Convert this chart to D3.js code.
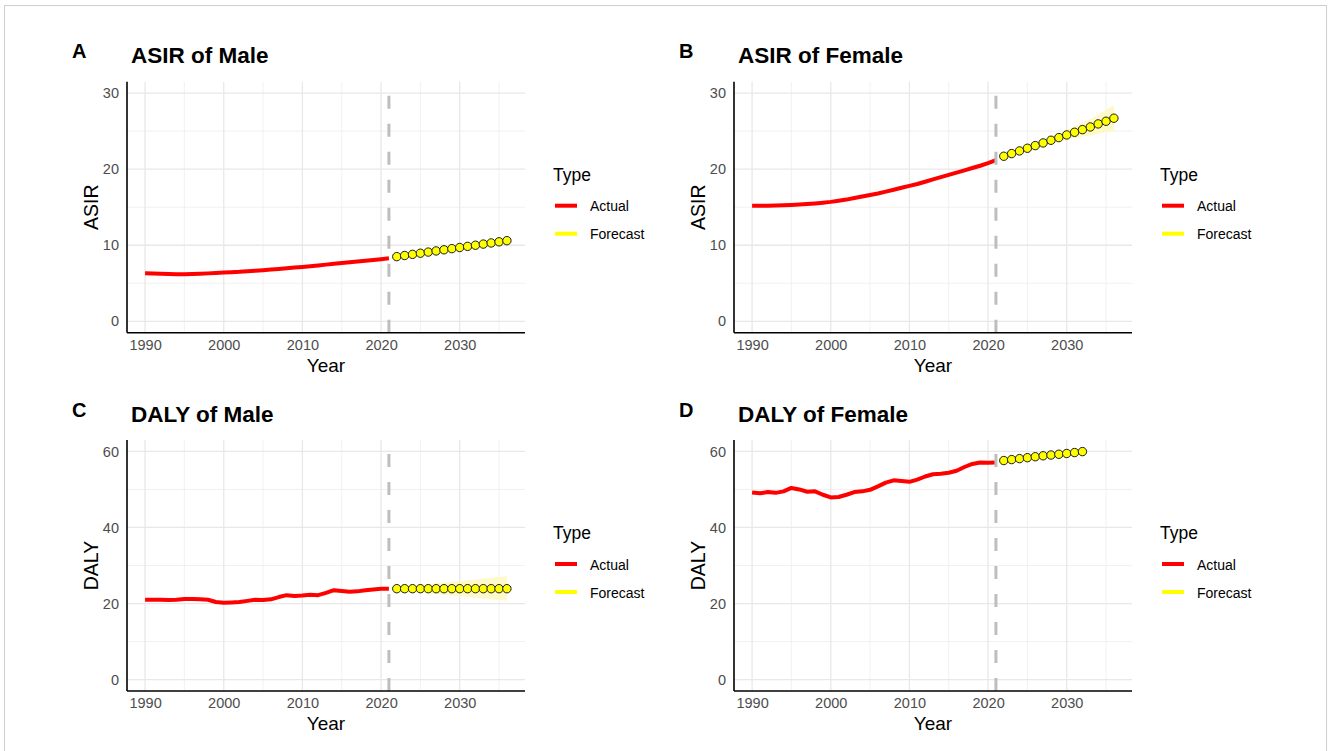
<!DOCTYPE html>
<html>
<head>
<meta charset="utf-8">
<script src="https://cdn.jsdelivr.net/npm/d3@7"></script>
<style>
  body { margin: 0; background: #fff; }
  svg { display: block; }
  text { font-family: "Liberation Sans", Arial, sans-serif; }
</style>
</head>
<body>
<div id="chart"></div>
<script>
// années observées et prévues
const actualYears = d3.range(1990, 2022);
const forecastYears = d3.range(2022, 2037);
const forecastYearsShort = d3.range(2022, 2033);

// ASIR homme
const asirMale = [6.3, 6.28, 6.25, 6.22, 6.2, 6.2, 6.22, 6.25, 6.3, 6.35, 6.4, 6.45, 6.5, 6.58, 6.65, 6.72,
  6.8, 6.88, 6.97, 7.06, 7.15, 7.25, 7.35, 7.45, 7.55, 7.65, 7.75, 7.85, 7.95, 8.05, 8.17, 8.3];
const asirMaleFc = [8.5, 8.65, 8.8, 8.95, 9.1, 9.25, 9.4, 9.55, 9.7, 9.85, 10.0, 10.15, 10.3, 10.45, 10.6];
const asirMaleLo = [8.45, 8.58, 8.71, 8.84, 8.97, 9.1, 9.23, 9.36, 9.48, 9.6, 9.72, 9.84, 9.96, 10.08, 10.2];
const asirMaleHi = [8.55, 8.72, 8.89, 9.06, 9.23, 9.4, 9.57, 9.74, 9.92, 10.1, 10.28, 10.46, 10.64, 10.82, 11.0];

// ASIR femme
const asirFemale = [15.2, 15.2, 15.2, 15.22, 15.25, 15.3, 15.35, 15.42, 15.5, 15.6, 15.7, 15.85, 16.0, 16.2, 16.4, 16.6,
  16.8, 17.05, 17.3, 17.55, 17.8, 18.05, 18.35, 18.65, 18.95, 19.25, 19.55, 19.85, 20.15, 20.45, 20.8, 21.2];
const asirFemaleFc = [21.7, 22.05, 22.4, 22.75, 23.1, 23.45, 23.8, 24.15, 24.5, 24.85, 25.2, 25.55, 25.95, 26.3, 26.7];
const asirFemaleLo = [21.6, 21.9, 22.2, 22.5, 22.8, 23.1, 23.35, 23.6, 23.85, 24.05, 24.25, 24.45, 24.65, 24.85, 25.0];
const asirFemaleHi = [21.8, 22.2, 22.6, 23.0, 23.4, 23.8, 24.25, 24.7, 25.15, 25.6, 26.1, 26.6, 27.2, 27.8, 28.4];

// DALY homme
const dalyMale = [21.0, 21.0, 21.0, 20.9, 21.0, 21.2, 21.2, 21.1, 21.0, 20.4, 20.2, 20.3, 20.4, 20.7, 21.0, 20.9,
  21.1, 21.7, 22.2, 22.0, 22.1, 22.3, 22.2, 22.8, 23.5, 23.3, 23.1, 23.2, 23.5, 23.7, 23.9, 23.9];
const dalyMaleFc = [23.9, 23.9, 23.9, 23.9, 23.9, 23.9, 23.9, 23.9, 23.9, 23.9, 23.9, 23.9, 23.9, 23.9, 23.9];
const dalyMaleLo = [23.7, 23.4, 23.2, 22.9, 22.7, 22.5, 22.3, 22.1, 21.9, 21.7, 21.5, 21.3, 21.1, 20.9, 20.7];
const dalyMaleHi = [24.1, 24.4, 24.6, 24.9, 25.1, 25.3, 25.5, 25.7, 25.9, 26.1, 26.3, 26.5, 26.7, 27.0, 27.2];

// DALY femme
const dalyFemale = [49.2, 49.0, 49.3, 49.1, 49.5, 50.4, 50.0, 49.4, 49.5, 48.6, 47.9, 48.0, 48.6, 49.3, 49.5, 49.9,
  50.8, 51.8, 52.4, 52.2, 52.0, 52.6, 53.4, 54.0, 54.1, 54.4, 54.9, 55.9, 56.7, 57.1, 57.0, 57.1];
const dalyFemaleFc = [57.6, 57.85, 58.1, 58.35, 58.6, 58.85, 59.05, 59.25, 59.45, 59.7, 59.95];

const legendLabels = ["Actual", "Forecast"];

// positions des panneaux
const panels = [
  { letter: "A", title: "ASIR of Male", yLab: "ASIR", left: 127, top: 81.7, yMax: 30, yStep: 10,
    actual: asirMale, fYears: forecastYears, fc: asirMaleFc, lo: asirMaleLo, hi: asirMaleHi },
  { letter: "B", title: "ASIR of Female", yLab: "ASIR", left: 734, top: 81.7, yMax: 30, yStep: 10,
    actual: asirFemale, fYears: forecastYears, fc: asirFemaleFc, lo: asirFemaleLo, hi: asirFemaleHi },
  { letter: "C", title: "DALY of Male", yLab: "DALY", left: 127, top: 440, yMax: 60, yStep: 20,
    actual: dalyMale, fYears: forecastYears, fc: dalyMaleFc, lo: dalyMaleLo, hi: dalyMaleHi },
  { letter: "D", title: "DALY of Female", yLab: "DALY", left: 734, top: 440, yMax: 60, yStep: 20,
    actual: dalyFemale, fYears: forecastYearsShort, fc: dalyFemaleFc, lo: null, hi: null }
];

const W = 398, H = 251;

const svg = d3.select("#chart").append("svg")
  .attr("width", 1328)
  .attr("height", 751);

svg.append("rect")
  .attr("x", 4.5).attr("y", 5.5)
  .attr("width", 1322).attr("height", 760)
  .attr("fill", "none")
  .attr("stroke", "#cfcfcf");

panels.forEach(p => {
  const g = svg.append("g").attr("transform", `translate(${p.left},${p.top})`);

  const x = d3.scaleLinear().domain([1987.7, 2038.3]).range([0, W]);
  const pad = p.yMax * 0.05;
  const y = d3.scaleLinear().domain([-pad, p.yMax + pad]).range([H, 0]);

  // grille mineure puis majeure
  const xMinor = d3.range(1995, 2040, 10);
  const xMajor = d3.range(1990, 2031, 10);
  const yMinor = d3.range(p.yStep / 2, p.yMax, p.yStep);
  const yMajor = d3.range(0, p.yMax + 1, p.yStep);

  g.selectAll(".vminor").data(xMinor).enter().append("line")
    .attr("x1", d => x(d)).attr("x2", d => x(d)).attr("y1", 0).attr("y2", H)
    .attr("stroke", "#ededed").attr("stroke-width", 0.8);
  g.selectAll(".hminor").data(yMinor).enter().append("line")
    .attr("x1", 0).attr("x2", W).attr("y1", d => y(d)).attr("y2", d => y(d))
    .attr("stroke", "#ededed").attr("stroke-width", 0.8);
  g.selectAll(".vmajor").data(xMajor).enter().append("line")
    .attr("x1", d => x(d)).attr("x2", d => x(d)).attr("y1", 0).attr("y2", H)
    .attr("stroke", "#e8e8e8").attr("stroke-width", 1.3);
  g.selectAll(".hmajor").data(yMajor).enter().append("line")
    .attr("x1", 0).attr("x2", W).attr("y1", d => y(d)).attr("y2", d => y(d))
    .attr("stroke", "#e8e8e8").attr("stroke-width", 1.3);

  // intervalle de prévision
  if (p.lo) {
    const band = p.fYears.map((yr, i) => ({ yr, lo: p.lo[i], hi: p.hi[i] }));
    g.append("path")
      .datum(band)
      .attr("fill", "#fdf8c2")
      .attr("fill-opacity", 0.9)
      .attr("d", d3.area().x(d => x(d.yr)).y0(d => y(d.lo)).y1(d => y(d.hi)));
  }

  // série observée
  const act = actualYears.map((yr, i) => ({ yr, v: p.actual[i] }));
  g.append("path")
    .datum(act)
    .attr("fill", "none")
    .attr("stroke", "#ff0000")
    .attr("stroke-width", 4)
    .attr("stroke-linejoin", "round")
    .attr("d", d3.line().x(d => x(d.yr)).y(d => y(d.v)));

  // ligne pointillée 2021
  g.append("line")
    .attr("x1", x(2021)).attr("x2", x(2021))
    .attr("y1", H).attr("y2", 0)
    .attr("stroke", "#bebebe")
    .attr("stroke-width", 3)
    .attr("stroke-dasharray", "13,15");

  // points de prévision
  const fc = p.fYears.map((yr, i) => ({ yr, v: p.fc[i] }));
  g.selectAll(".pt").data(fc).enter().append("circle")
    .attr("cx", d => x(d.yr)).attr("cy", d => y(d.v))
    .attr("r", 4.2)
    .attr("fill", "#ffff00")
    .attr("stroke", "#1a1a1a")
    .attr("stroke-width", 1);

  // axes
  g.append("line").attr("x1", 0).attr("x2", 0).attr("y1", 0).attr("y2", H)
    .attr("stroke", "#000").attr("stroke-width", 1.6);
  g.append("line").attr("x1", 0).attr("x2", W).attr("y1", H).attr("y2", H)
    .attr("stroke", "#000").attr("stroke-width", 1.6);

  const xAxis = g.append("g").attr("transform", `translate(0,${H})`)
    .call(d3.axisBottom(x).tickValues(xMajor).tickFormat(d3.format("d")).tickSize(0).tickPadding(7));
  xAxis.select(".domain").remove();
  xAxis.selectAll("text").attr("font-size", 14.5).attr("fill", "#4d4d4d");

  const yAxis = g.append("g")
    .call(d3.axisLeft(y).tickValues(yMajor).tickSize(0).tickPadding(8));
  yAxis.select(".domain").remove();
  yAxis.selectAll("text").attr("font-size", 14.5).attr("fill", "#4d4d4d");

  // titres
  g.append("text").attr("x", W / 2).attr("y", H + 39)
    .attr("text-anchor", "middle").attr("font-size", 19).text("Year");
  g.append("text")
    .attr("transform", `translate(-29,${H / 2}) rotate(-90)`)
    .attr("text-anchor", "middle").attr("font-size", 19.5).text(p.yLab);
  g.append("text").attr("x", 4).attr("y", -18.5)
    .attr("font-size", 22.5).attr("font-weight", "bold").text(p.title);
  g.append("text").attr("x", -55).attr("y", -23.5)
    .attr("font-size", 20).attr("font-weight", "bold").text(p.letter);

  // légende
  const lg = g.append("g").attr("transform", `translate(${W + 28},0)`);
  lg.append("text").attr("x", 0).attr("y", 99).attr("font-size", 17.5).text("Type");
  const keyColors = ["#ff0000", "#ffff00"];
  const keyY = [124, 152];
  legendLabels.forEach((lab, i) => {
    lg.append("line").attr("x1", 2).attr("x2", 24).attr("y1", keyY[i]).attr("y2", keyY[i])
      .attr("stroke", keyColors[i]).attr("stroke-width", 4);
    lg.append("text").attr("x", 37).attr("y", keyY[i] + 5.5).attr("font-size", 14).text(lab);
  });
});
</script>
</body>
</html>
